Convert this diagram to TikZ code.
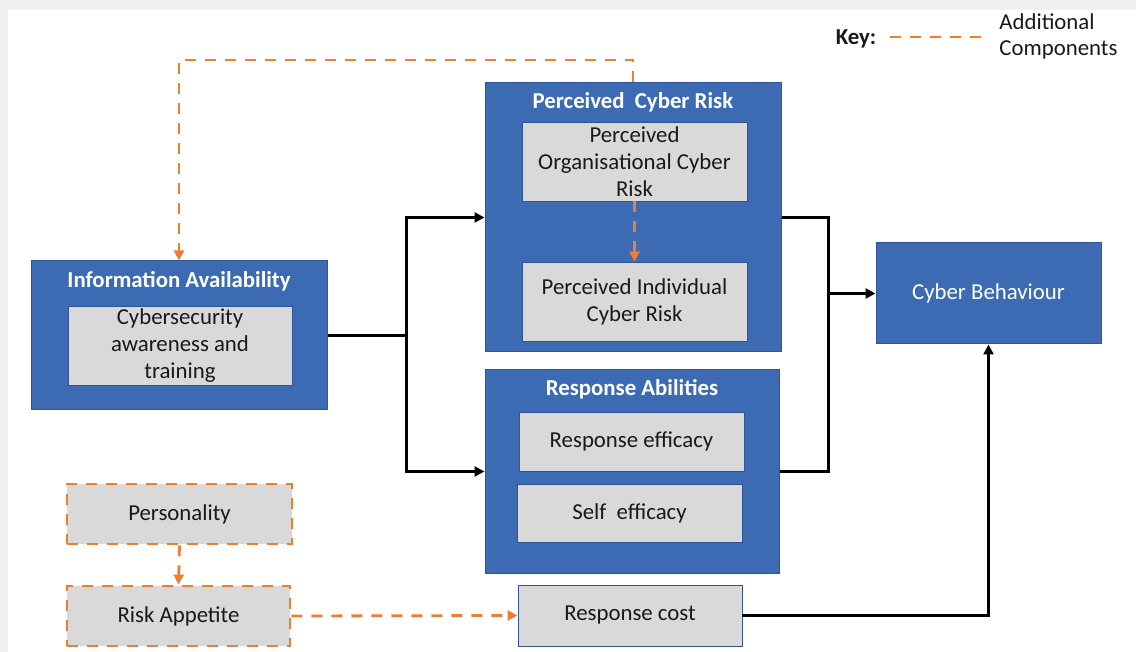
\documentclass[tikz,border=0pt]{standalone}
\usepackage{fontspec}
\setmainfont{Carlito}
\usetikzlibrary{arrows.meta}
\definecolor{bluebox}{HTML}{3C6AB3}
\definecolor{blueedge}{HTML}{2F5597}
\definecolor{graybox}{HTML}{D9D9D9}
\definecolor{orng}{HTML}{ED7D31}
\definecolor{framegray}{HTML}{F0F0F0}
\tikzset{
  x=0.5pt, y=-0.5pt,
  outer/.style={draw=blueedge, line width=0.5pt, fill=bluebox, inner sep=0pt},
  inner/.style={draw=blueedge, line width=0.4pt, fill=graybox, inner sep=0pt, align=center, font=\fontsize{11.4}{13.5}\selectfont, text=black!90},
  addbox/.style={draw=orng, line width=1.4pt, dash pattern=on 5.5pt off 4.5pt, fill=graybox, inner sep=0pt, align=center, font=\fontsize{11.4}{13.5}\selectfont, text=black!90},
  ttl/.style={font=\fontsize{11.4}{13}\selectfont\bfseries, text=white},
  conn/.style={line width=1.5pt, -{Triangle[length=5pt,width=5pt]}},
  dconn/.style={draw=orng, line width=1.4pt, dash pattern=on 5.5pt off 4.5pt, -{Triangle[length=5pt,width=5pt,fill=orng]}},
}
\begin{document}
\begin{tikzpicture}
\fill[framegray] (0,0) rectangle (1136,652);
\fill[white] (8,10) rectangle (1136,652);
\useasboundingbox (0,0) rectangle (1136,652);

% outer boxes
\node[outer, minimum width=148pt, minimum height=74.5pt] (infoA) at (179,335.5) {};
\node[outer, minimum width=148pt, minimum height=134.5pt] (pcr) at (633,217.5) {};
\node[outer, minimum width=147pt, minimum height=101.5pt] (ra) at (632,471.5) {};
\node[outer, minimum width=112.5pt, minimum height=50.5pt, font=\fontsize{11.4}{13}\selectfont, text=white] (cb) at (988.5,293.5) {\raisebox{-0.5pt}{Cyber Behaviour}};

% titles
\node[ttl] (infoAt) at (179,281) {Information Availability};
\node[ttl] (pcrt) at (633,102.5) {Perceived\ \ Cyber Risk};
\node[ttl] (rat) at (632,389.5) {Response Abilities};

% inner boxes
\node[inner, minimum width=112pt, minimum height=39.5pt] (infoIn) at (180,345.5) {Cybersecurity\\awareness and\\training};
\node[inner, minimum width=112.5pt, minimum height=39.5pt] (porg) at (634.5,161.5) {Perceived\\Organisational Cyber\\Risk};
\node[inner, minimum width=112.5pt, minimum height=39.5pt] (pind) at (634.5,301.5) {Perceived Individual\\Cyber Risk};
\node[inner, minimum width=112.5pt, minimum height=29.5pt] (reff) at (631.5,441.5) {\raisebox{-1pt}{Response efficacy}};
\node[inner, minimum width=112.5pt, minimum height=29pt] (seff) at (629.5,513) {\raisebox{-1pt}{Self\ \ efficacy}};
\node[inner, minimum width=112pt, minimum height=30.5pt] (rcost) at (630,615.5) {\raisebox{-1pt}{Response cost}};

% additional components
\node[addbox, minimum width=112.5pt, minimum height=30pt] (pers) at (179.5,514) {\raisebox{-1pt}{Personality}};
\node[addbox, minimum width=111.5pt, minimum height=30pt] (riskA) at (178.5,616) {\raisebox{-1pt}{Risk Appetite}};

% solid connectors
\coordinate (j1) at (406,336);
\coordinate (j2) at (828,293.5);
\draw[line width=1.5pt] (infoA.east |- j1) -- (j1);
\draw[conn] (j1) |- (pcr.west);
\draw[conn] (j1) |- (ra.west);
\draw[line width=1.5pt] (pcr.east) -| (j2);
\draw[line width=1.5pt] (ra.east) -| (j2);
\draw[conn] (j2) -- (cb.west);
\draw[conn] (rcost.east) -| (cb.south);

% dashed connectors
\coordinate (d1) at (633,60);
\coordinate (d2) at (179,60);
\draw[dconn] (pcr.north) -- (d1) -- (d2) -- (infoA.north);
\draw[dconn] (porg.south) -- (pind.north);
\draw[dconn] (pers.south) -- (riskA.north);
\draw[dconn] (riskA.east) -- (rcost.west);

% key
\node[font=\fontsize{11.4}{13}\selectfont\bfseries, text=black!90] (key) at (856,39) {Key:};
\coordinate (k1) at (890,37);
\coordinate (k2) at (982,37);
\draw[draw=orng, line width=1.4pt, dash pattern=on 5.5pt off 4.5pt] (k1) -- (k2);
\node[anchor=west, align=left, inner sep=0pt, font=\fontsize{11.4}{13}\selectfont, text=black!90] (keyt) at (999,36.5) {Additional\\Components};
\end{tikzpicture}
\end{document}
